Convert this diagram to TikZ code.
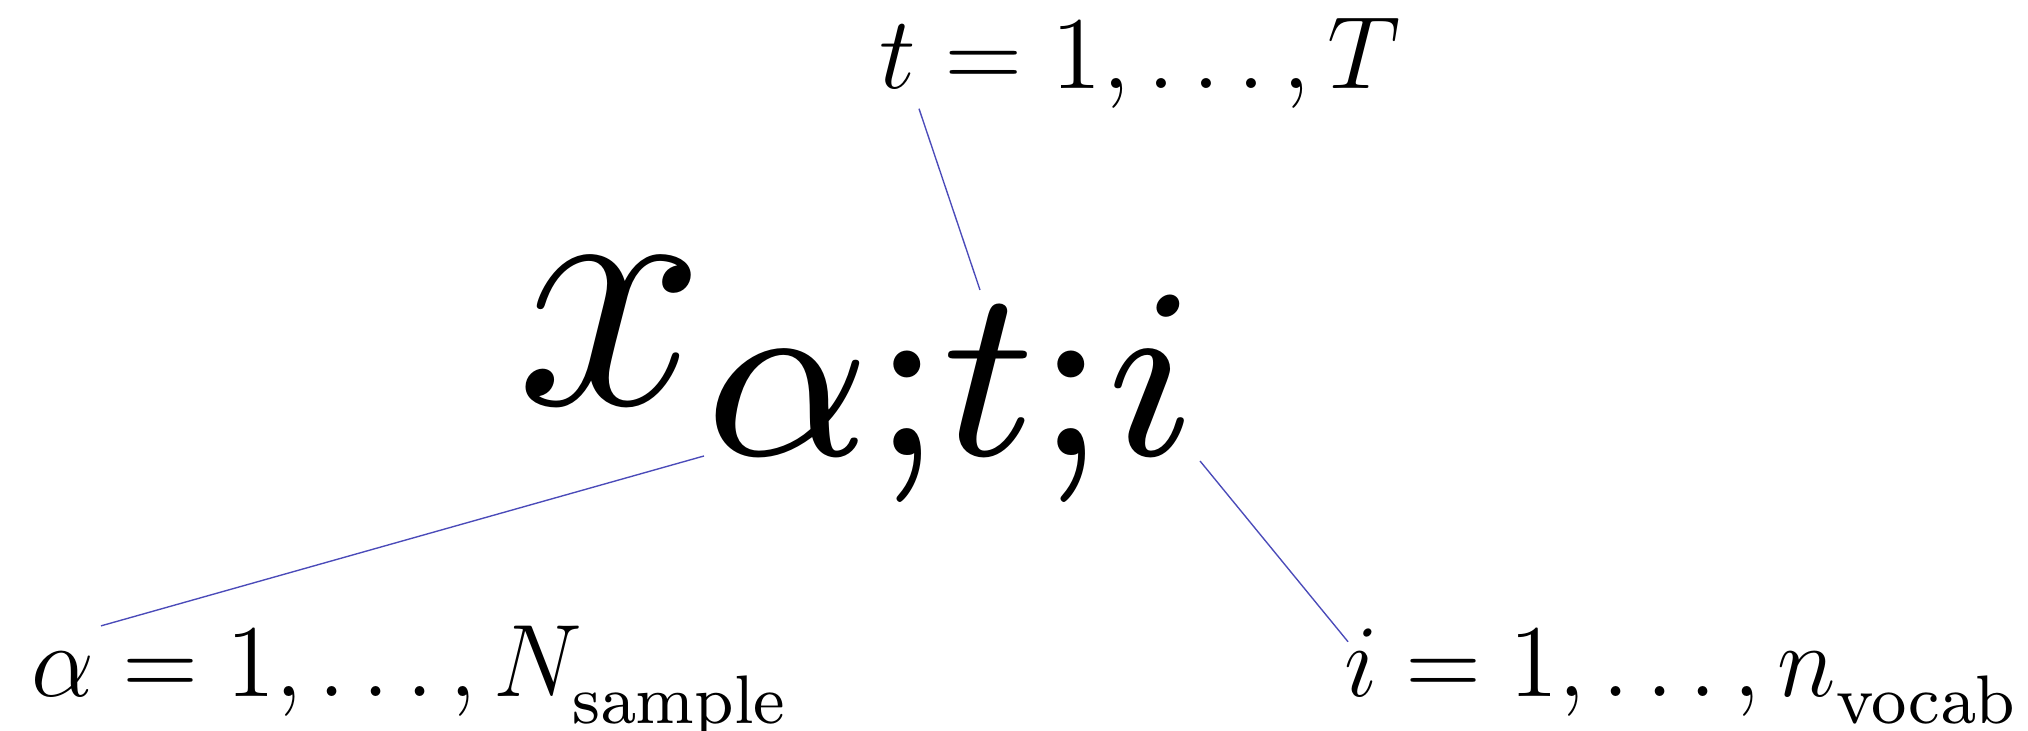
\documentclass[12pt,tikz,border=0pt]{standalone}
\usepackage{graphicx}
\usetikzlibrary{calc}
\definecolor{linkblue}{RGB}{75,75,185}
\newcommand{\squeezed}[1]{\scalebox{0.97}[1]{#1}}
\newcommand{\lowsub}[1]{_{\raisebox{-1.3pt}{$\scriptstyle\mathrm{#1}$}}}
\begin{document}
\begin{tikzpicture}[x=0.1165pt,y=-0.1165pt,
    rangelabel/.style={anchor=base west,inner sep=0pt},
    indexlink/.style={draw=linkblue,line width=0.16pt}]
  \useasboundingbox (0,0) rectangle (2028,731);

  % the symbol
  \node[anchor=base west,inner sep=0pt] (xsym) at (515,405)
    {\scalebox{3.3}{$x_{\scalebox{1.07}{$\scriptstyle\alpha;t;i$}}$}};

  % ranges of the indices
  \node[rangelabel] (trange) at (878,89) {$t=1,\ldots,T$};
  \node[rangelabel] (arange) at (30,697) {\squeezed{$\alpha=1,\ldots,N\lowsub{sample}$}};
  \node[rangelabel] (irange) at (1343,697) {\squeezed{$i=1,\ldots,n\lowsub{vocab}$}};

  % ends of the links
  \coordinate (tsub) at ($(xsym.base west)+(465,-115)$);
  \coordinate (asub) at ($(xsym.base west)+(189,51)$);
  \coordinate (isub) at ($(xsym.base west)+(685,56)$);
  \coordinate (tfoot) at ($(trange.south west)+(41,-2)$);
  \coordinate (ahead) at ($(arange.north west)+(71,1)$);
  \coordinate (ihead) at ($(irange.north west)+(5,14)$);

  % links
  \draw[indexlink] (tfoot) -- (tsub);
  \draw[indexlink] (asub) -- (ahead);
  \draw[indexlink] (isub) -- (ihead);
\end{tikzpicture}
\end{document}
